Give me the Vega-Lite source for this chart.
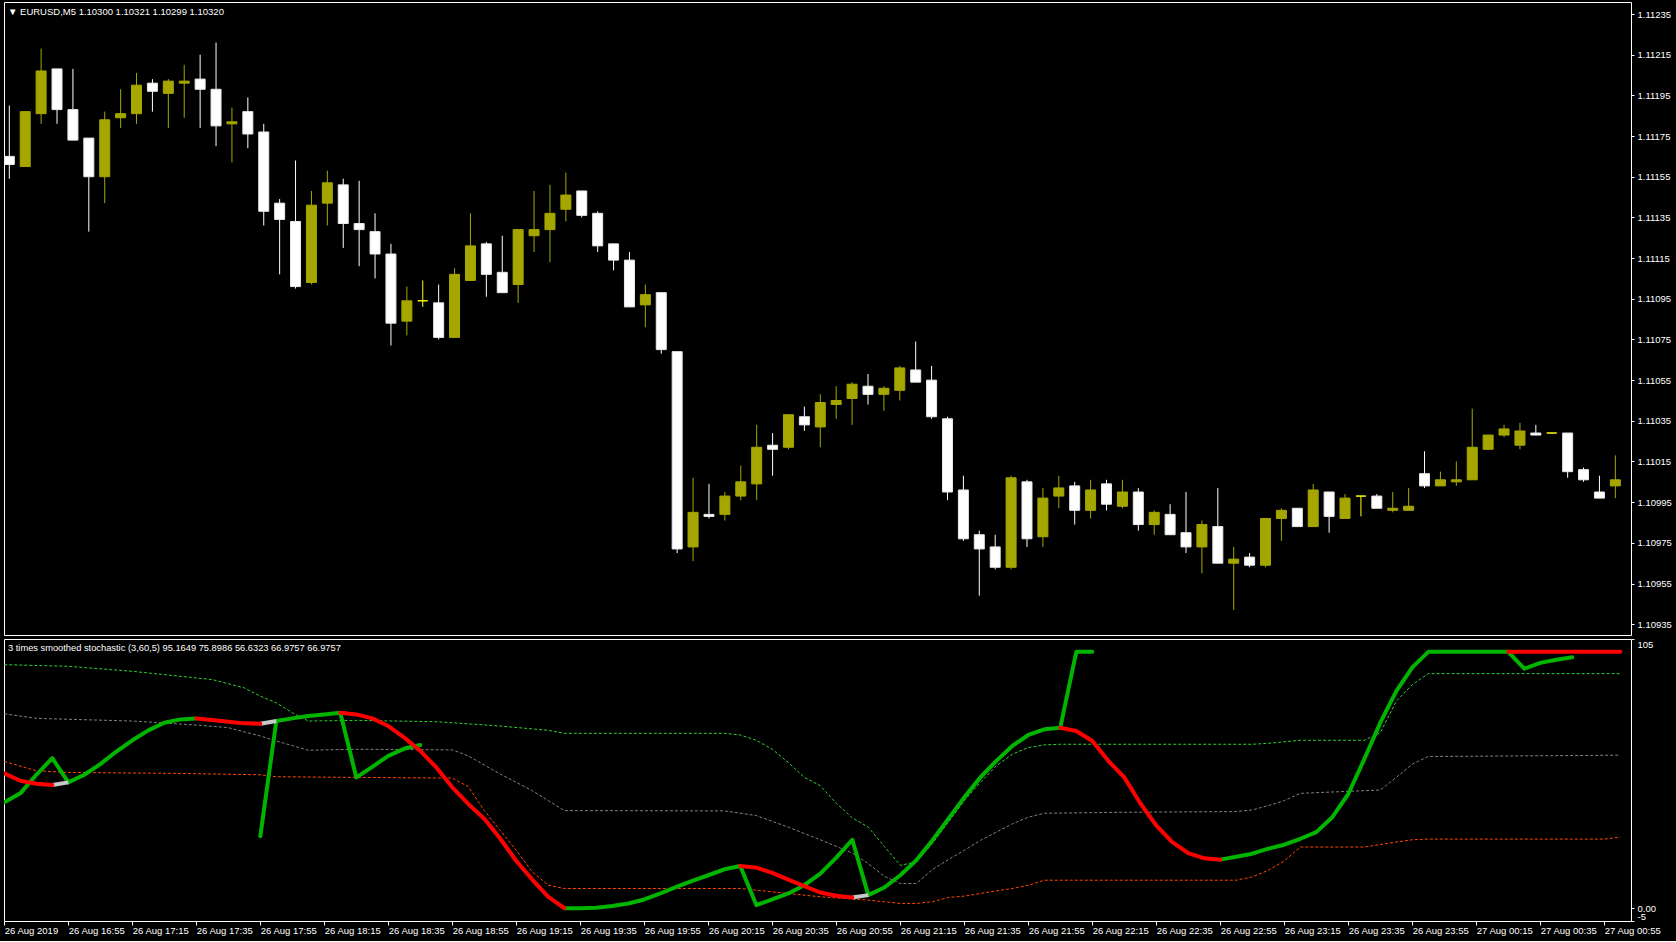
{
"$schema": "https://vega.github.io/schema/vega-lite/v6.json",
"background": "#000000",
"autosize": {"type": "pad"},
"padding": {"left": 3, "top": 1, "right": 5, "bottom": 6},
"spacing": 2,
"config": {
  "view": {"stroke": "#ffffff", "strokeWidth": 1},
  "font": "Liberation Sans",
  "axis": {"labelFont": "Liberation Sans", "labelFontSize": 9.5, "labelColor": "#ffffff", "tickColor": "#ffffff", "grid": false, "domain": false, "title": null}
},
"datasets": {
"c": [
{"t":"2019-08-26T16:35","o":1.11165,"h":1.11190,"l":1.11154,"c":1.11161},
{"t":"2019-08-26T16:40","o":1.11160,"h":1.11187,"l":1.11160,"c":1.11187},
{"t":"2019-08-26T16:45","o":1.11186,"h":1.11218,"l":1.11181,"c":1.11207},
{"t":"2019-08-26T16:50","o":1.11208,"h":1.11208,"l":1.11181,"c":1.11188},
{"t":"2019-08-26T16:55","o":1.11188,"h":1.11208,"l":1.11173,"c":1.11173},
{"t":"2019-08-26T17:00","o":1.11174,"h":1.11174,"l":1.11128,"c":1.11155},
{"t":"2019-08-26T17:05","o":1.11155,"h":1.11187,"l":1.11142,"c":1.11183},
{"t":"2019-08-26T17:10","o":1.11184,"h":1.11198,"l":1.11179,"c":1.11186},
{"t":"2019-08-26T17:15","o":1.11186,"h":1.11206,"l":1.11181,"c":1.11200},
{"t":"2019-08-26T17:20","o":1.11201,"h":1.11203,"l":1.11187,"c":1.11197},
{"t":"2019-08-26T17:25","o":1.11196,"h":1.11203,"l":1.11179,"c":1.11202},
{"t":"2019-08-26T17:30","o":1.11201,"h":1.11210,"l":1.11184,"c":1.11202},
{"t":"2019-08-26T17:35","o":1.11203,"h":1.11215,"l":1.11179,"c":1.11198},
{"t":"2019-08-26T17:40","o":1.11198,"h":1.11221,"l":1.11170,"c":1.11180},
{"t":"2019-08-26T17:45","o":1.11181,"h":1.11189,"l":1.11162,"c":1.11182},
{"t":"2019-08-26T17:50","o":1.11187,"h":1.11194,"l":1.11169,"c":1.11176},
{"t":"2019-08-26T17:55","o":1.11177,"h":1.11181,"l":1.11131,"c":1.11138},
{"t":"2019-08-26T18:00","o":1.11142,"h":1.11144,"l":1.11107,"c":1.11134},
{"t":"2019-08-26T18:05","o":1.11133,"h":1.11163,"l":1.11100,"c":1.11101},
{"t":"2019-08-26T18:10","o":1.11103,"h":1.11148,"l":1.11102,"c":1.11141},
{"t":"2019-08-26T18:15","o":1.11142,"h":1.11158,"l":1.11131,"c":1.11152},
{"t":"2019-08-26T18:20","o":1.11151,"h":1.11154,"l":1.11120,"c":1.11132},
{"t":"2019-08-26T18:25","o":1.11132,"h":1.11153,"l":1.11111,"c":1.11129},
{"t":"2019-08-26T18:30","o":1.11128,"h":1.11137,"l":1.11105,"c":1.11117},
{"t":"2019-08-26T18:35","o":1.11117,"h":1.11122,"l":1.11072,"c":1.11083},
{"t":"2019-08-26T18:40","o":1.11084,"h":1.11101,"l":1.11077,"c":1.11094},
{"t":"2019-08-26T18:45","o":1.11094,"h":1.11104,"l":1.11091,"c":1.11094},
{"t":"2019-08-26T18:50","o":1.11093,"h":1.11102,"l":1.11075,"c":1.11076},
{"t":"2019-08-26T18:55","o":1.11076,"h":1.11110,"l":1.11076,"c":1.11107},
{"t":"2019-08-26T19:00","o":1.11104,"h":1.11137,"l":1.11104,"c":1.11121},
{"t":"2019-08-26T19:05","o":1.11122,"h":1.11123,"l":1.11096,"c":1.11107},
{"t":"2019-08-26T19:10","o":1.11108,"h":1.11126,"l":1.11098,"c":1.11098},
{"t":"2019-08-26T19:15","o":1.11102,"h":1.11129,"l":1.11093,"c":1.11129},
{"t":"2019-08-26T19:20","o":1.11126,"h":1.11148,"l":1.11118,"c":1.11129},
{"t":"2019-08-26T19:25","o":1.11129,"h":1.11151,"l":1.11113,"c":1.11137},
{"t":"2019-08-26T19:30","o":1.11139,"h":1.11157,"l":1.11133,"c":1.11146},
{"t":"2019-08-26T19:35","o":1.11148,"h":1.11148,"l":1.11135,"c":1.11136},
{"t":"2019-08-26T19:40","o":1.11137,"h":1.11138,"l":1.11118,"c":1.11121},
{"t":"2019-08-26T19:45","o":1.11122,"h":1.11122,"l":1.11109,"c":1.11114},
{"t":"2019-08-26T19:50","o":1.11114,"h":1.11118,"l":1.11091,"c":1.11091},
{"t":"2019-08-26T19:55","o":1.11092,"h":1.11102,"l":1.11081,"c":1.11097},
{"t":"2019-08-26T20:00","o":1.11098,"h":1.11098,"l":1.11068,"c":1.11070},
{"t":"2019-08-26T20:05","o":1.11069,"h":1.11069,"l":1.10970,"c":1.10972},
{"t":"2019-08-26T20:10","o":1.10973,"h":1.11007,"l":1.10966,"c":1.10990},
{"t":"2019-08-26T20:15","o":1.10989,"h":1.11004,"l":1.10987,"c":1.10988},
{"t":"2019-08-26T20:20","o":1.10989,"h":1.11000,"l":1.10986,"c":1.10998},
{"t":"2019-08-26T20:25","o":1.10998,"h":1.11013,"l":1.10996,"c":1.11005},
{"t":"2019-08-26T20:30","o":1.11004,"h":1.11033,"l":1.10996,"c":1.11022},
{"t":"2019-08-26T20:35","o":1.11023,"h":1.11029,"l":1.11008,"c":1.11021},
{"t":"2019-08-26T20:40","o":1.11022,"h":1.11038,"l":1.11021,"c":1.11038},
{"t":"2019-08-26T20:45","o":1.11037,"h":1.11042,"l":1.11030,"c":1.11033},
{"t":"2019-08-26T20:50","o":1.11032,"h":1.11048,"l":1.11022,"c":1.11044},
{"t":"2019-08-26T20:55","o":1.11043,"h":1.11052,"l":1.11036,"c":1.11045},
{"t":"2019-08-26T21:00","o":1.11046,"h":1.11054,"l":1.11033,"c":1.11053},
{"t":"2019-08-26T21:05","o":1.11052,"h":1.11058,"l":1.11043,"c":1.11048},
{"t":"2019-08-26T21:10","o":1.11048,"h":1.11052,"l":1.11040,"c":1.11051},
{"t":"2019-08-26T21:15","o":1.11050,"h":1.11062,"l":1.11045,"c":1.11061},
{"t":"2019-08-26T21:20","o":1.11060,"h":1.11074,"l":1.11054,"c":1.11054},
{"t":"2019-08-26T21:25","o":1.11055,"h":1.11062,"l":1.11036,"c":1.11037},
{"t":"2019-08-26T21:30","o":1.11036,"h":1.11037,"l":1.10996,"c":1.11000},
{"t":"2019-08-26T21:35","o":1.11001,"h":1.11008,"l":1.10976,"c":1.10977},
{"t":"2019-08-26T21:40","o":1.10979,"h":1.10981,"l":1.10949,"c":1.10972},
{"t":"2019-08-26T21:45","o":1.10973,"h":1.10979,"l":1.10962,"c":1.10963},
{"t":"2019-08-26T21:50","o":1.10963,"h":1.11008,"l":1.10962,"c":1.11007},
{"t":"2019-08-26T21:55","o":1.11005,"h":1.11006,"l":1.10973,"c":1.10977},
{"t":"2019-08-26T22:00","o":1.10978,"h":1.11002,"l":1.10973,"c":1.10997},
{"t":"2019-08-26T22:05","o":1.10998,"h":1.11008,"l":1.10992,"c":1.11002},
{"t":"2019-08-26T22:10","o":1.11003,"h":1.11005,"l":1.10984,"c":1.10991},
{"t":"2019-08-26T22:15","o":1.10991,"h":1.11006,"l":1.10987,"c":1.11001},
{"t":"2019-08-26T22:20","o":1.11004,"h":1.11006,"l":1.10991,"c":1.10994},
{"t":"2019-08-26T22:25","o":1.10993,"h":1.11006,"l":1.10992,"c":1.11000},
{"t":"2019-08-26T22:30","o":1.11000,"h":1.11002,"l":1.10981,"c":1.10984},
{"t":"2019-08-26T22:35","o":1.10984,"h":1.10991,"l":1.10979,"c":1.10990},
{"t":"2019-08-26T22:40","o":1.10989,"h":1.10994,"l":1.10979,"c":1.10979},
{"t":"2019-08-26T22:45","o":1.10980,"h":1.11000,"l":1.10970,"c":1.10973},
{"t":"2019-08-26T22:50","o":1.10973,"h":1.10986,"l":1.10960,"c":1.10984},
{"t":"2019-08-26T22:55","o":1.10983,"h":1.11002,"l":1.10965,"c":1.10965},
{"t":"2019-08-26T23:00","o":1.10965,"h":1.10973,"l":1.10942,"c":1.10967},
{"t":"2019-08-26T23:05","o":1.10968,"h":1.10970,"l":1.10963,"c":1.10964},
{"t":"2019-08-26T23:10","o":1.10964,"h":1.10987,"l":1.10963,"c":1.10987},
{"t":"2019-08-26T23:15","o":1.10987,"h":1.10992,"l":1.10976,"c":1.10991},
{"t":"2019-08-26T23:20","o":1.10992,"h":1.10992,"l":1.10983,"c":1.10983},
{"t":"2019-08-26T23:25","o":1.10983,"h":1.11004,"l":1.10983,"c":1.11001},
{"t":"2019-08-26T23:30","o":1.11000,"h":1.11000,"l":1.10980,"c":1.10988},
{"t":"2019-08-26T23:35","o":1.10987,"h":1.10999,"l":1.10987,"c":1.10997},
{"t":"2019-08-26T23:40","o":1.10998,"h":1.10998,"l":1.10988,"c":1.10998},
{"t":"2019-08-26T23:45","o":1.10998,"h":1.10999,"l":1.10992,"c":1.10992},
{"t":"2019-08-26T23:50","o":1.10991,"h":1.11000,"l":1.10990,"c":1.10992},
{"t":"2019-08-26T23:55","o":1.10991,"h":1.11002,"l":1.10991,"c":1.10993},
{"t":"2019-08-27T00:00","o":1.11009,"h":1.11020,"l":1.11002,"c":1.11003},
{"t":"2019-08-27T00:05","o":1.11003,"h":1.11010,"l":1.11003,"c":1.11006},
{"t":"2019-08-27T00:10","o":1.11005,"h":1.11015,"l":1.11003,"c":1.11006},
{"t":"2019-08-27T00:15","o":1.11006,"h":1.11041,"l":1.11006,"c":1.11022},
{"t":"2019-08-27T00:20","o":1.11021,"h":1.11028,"l":1.11021,"c":1.11028},
{"t":"2019-08-27T00:25","o":1.11028,"h":1.11033,"l":1.11027,"c":1.11031},
{"t":"2019-08-27T00:30","o":1.11023,"h":1.11034,"l":1.11021,"c":1.11030},
{"t":"2019-08-27T00:35","o":1.11029,"h":1.11033,"l":1.11028,"c":1.11028},
{"t":"2019-08-27T00:40","o":1.11029,"h":1.11029,"l":1.11029,"c":1.11029},
{"t":"2019-08-27T00:45","o":1.11029,"h":1.11029,"l":1.11007,"c":1.11010},
{"t":"2019-08-27T00:50","o":1.11011,"h":1.11012,"l":1.11005,"c":1.11006},
{"t":"2019-08-27T00:55","o":1.11000,"h":1.11008,"l":1.10997,"c":1.10997},
{"t":"2019-08-27T01:00","o":1.11003,"h":1.11018,"l":1.10997,"c":1.11006}
],
"s": [
{"t":"2019-08-26T16:35","g":41.3,"r":52.56,"hi":94.99,"md":75.84,"lo":57.22},
{"t":"2019-08-26T16:40","g":44.8,"r":49.71},
{"t":"2019-08-26T16:45","g":52.04,"r":48.55,"md":74.03,"lo":53.59},
{"t":"2019-08-26T16:50","g":58.51,"r":48.03,"y":48.03},
{"t":"2019-08-26T16:55","g":49.07,"y":49.07,"hi":94.34,"lo":52.95},
{"t":"2019-08-26T17:00","g":52.04},
{"t":"2019-08-26T17:05","g":56.18},
{"t":"2019-08-26T17:10","g":61.1},
{"t":"2019-08-26T17:15","g":65.49,"hi":92.4,"md":73.0},
{"t":"2019-08-26T17:20","g":69.37},
{"t":"2019-08-26T17:25","g":72.35},
{"t":"2019-08-26T17:30","g":73.64,"lo":52.56},
{"t":"2019-08-26T17:35","g":74.03,"r":74.03,"hi":89.81,"md":71.44},
{"t":"2019-08-26T17:40","r":73.38,"hi":89.16},
{"t":"2019-08-26T17:45","r":72.74,"md":70.41},
{"t":"2019-08-26T17:50","r":72.09,"hi":85.93},
{"t":"2019-08-26T17:55","g":28.11,"r":71.96,"y":71.96,"hi":82.7,"md":67.17,"lo":52.04},
{"t":"2019-08-26T18:00","g":73.0,"y":73.0,"hi":80.11,"md":65.23,"lo":51.27},
{"t":"2019-08-26T18:05","g":74.03,"hi":76.23},
{"t":"2019-08-26T18:10","g":74.94,"hi":73.0,"md":61.61},
{"t":"2019-08-26T18:15","g":75.58},
{"t":"2019-08-26T18:20","g":76.23,"r":76.23},
{"t":"2019-08-26T18:25","g":51.01,"r":75.58,"hi":73.25,"md":62.0,"lo":51.01},
{"t":"2019-08-26T18:30","g":55.15,"r":74.03},
{"t":"2019-08-26T18:35","g":59.41,"r":71.05},
{"t":"2019-08-26T18:40","g":62.26,"r":66.53},
{"t":"2019-08-26T18:45","g":63.68,"r":61.35},
{"t":"2019-08-26T18:50","r":54.89,"hi":72.74},
{"t":"2019-08-26T18:55","r":47.13,"md":61.74,"lo":50.75},
{"t":"2019-08-26T19:00","r":40.66,"md":59.41,"lo":47.38},
{"t":"2019-08-26T19:05","r":34.84,"lo":38.07},
{"t":"2019-08-26T19:10","r":27.08,"hi":71.05,"md":52.3,"lo":30.31},
{"t":"2019-08-26T19:15","r":18.41,"lo":22.55},
{"t":"2019-08-26T19:20","r":11.17,"md":45.83,"lo":14.14},
{"t":"2019-08-26T19:25","r":4.44,"hi":69.37,"lo":8.97},
{"t":"2019-08-26T19:30","g":0,"r":0,"hi":68.21,"md":38.07,"lo":7.67},
{"t":"2019-08-26T19:35","g":0},
{"t":"2019-08-26T19:40","g":0.17},
{"t":"2019-08-26T19:45","g":0.82},
{"t":"2019-08-26T19:50","g":1.85},
{"t":"2019-08-26T19:55","g":3.41},
{"t":"2019-08-26T20:00","g":5.73},
{"t":"2019-08-26T20:05","g":8.32},
{"t":"2019-08-26T20:10","g":10.65},
{"t":"2019-08-26T20:15","g":12.85},
{"t":"2019-08-26T20:20","g":15.17,"hi":68.21,"md":37.94},
{"t":"2019-08-26T20:25","g":16.47,"r":16.47,"hi":67.56,"lo":7.67},
{"t":"2019-08-26T20:30","g":1.21,"r":15.82,"hi":65.49,"md":36.13,"lo":7.03},
{"t":"2019-08-26T20:35","g":3.41,"r":13.75,"hi":62.0},
{"t":"2019-08-26T20:40","g":5.73,"r":11.17,"hi":56.83,"md":31.6,"lo":5.73},
{"t":"2019-08-26T20:45","g":8.97,"r":8.58,"hi":51.01},
{"t":"2019-08-26T20:50","g":13.49,"r":6.12,"hi":47.77,"md":26.69,"lo":4.44},
{"t":"2019-08-26T20:55","g":19.7,"r":4.83,"hi":40.92},
{"t":"2019-08-26T21:00","g":26.69,"r":4.18,"y":4.18,"hi":35.22,"md":21.51},
{"t":"2019-08-26T21:05","g":5.09,"y":5.09,"hi":31.6,"md":17.37,"lo":3.15},
{"t":"2019-08-26T21:10","g":8.06,"hi":24.1,"md":12.46,"lo":2.5},
{"t":"2019-08-26T21:15","g":12.85,"hi":16.73,"md":9.61,"lo":1.85},
{"t":"2019-08-26T21:20","g":18.67,"hi":18.02,"md":9.61,"lo":1.85},
{"t":"2019-08-26T21:25","g":26.43,"hi":25.14,"md":15.05,"lo":2.5},
{"t":"2019-08-26T21:30","g":34.84,"hi":33.54,"md":18.93,"lo":4.18},
{"t":"2019-08-26T21:35","g":43.24,"hi":41.95,"md":22.55,"lo":4.7},
{"t":"2019-08-26T21:40","g":51.01,"hi":49.07,"md":26.43,"lo":5.73},
{"t":"2019-08-26T21:45","g":57.47,"hi":55.53,"md":29.66,"lo":6.77},
{"t":"2019-08-26T21:50","g":63.29,"hi":60.06,"md":32.9,"lo":7.67},
{"t":"2019-08-26T21:55","g":67.56,"hi":62.65,"md":35.48,"lo":8.97},
{"t":"2019-08-26T22:00","g":69.76,"hi":63.68,"md":37.03,"lo":10.91},
{"t":"2019-08-26T22:05","g":70.41,"r":70.41,"hi":63.94},
{"t":"2019-08-26T22:10","g":100,"r":69.12},
{"t":"2019-08-26T22:15","g":100,"r":65.23},
{"t":"2019-08-26T22:20","r":57.47},
{"t":"2019-08-26T22:25","r":51.01,"md":37.42,"lo":10.91},
{"t":"2019-08-26T22:30","r":40.92},
{"t":"2019-08-26T22:35","r":32.25},
{"t":"2019-08-26T22:40","r":25.79},
{"t":"2019-08-26T22:45","r":21.51},
{"t":"2019-08-26T22:50","r":19.44},
{"t":"2019-08-26T22:55","g":18.93,"r":18.93},
{"t":"2019-08-26T23:00","g":20.09,"md":37.68,"lo":10.91},
{"t":"2019-08-26T23:05","g":21.26,"hi":63.94,"md":38.33,"lo":12.2},
{"t":"2019-08-26T23:10","g":23.2,"hi":64.3,"md":40.01,"lo":14.79},
{"t":"2019-08-26T23:15","g":24.75,"md":41.95,"lo":18.41},
{"t":"2019-08-26T23:20","g":27.08,"hi":65.49,"md":44.8,"lo":23.85},
{"t":"2019-08-26T23:25","g":29.66},
{"t":"2019-08-26T23:30","g":35.48},
{"t":"2019-08-26T23:35","g":44.54},
{"t":"2019-08-26T23:40","g":58.12,"hi":65.49,"md":45.83,"lo":23.85},
{"t":"2019-08-26T23:45","g":72.35,"hi":68.47,"md":46.09},
{"t":"2019-08-26T23:50","g":84.64,"hi":80.76,"md":51.01,"lo":25.79},
{"t":"2019-08-26T23:55","g":93.95,"hi":87.22,"md":56.18,"lo":26.69},
{"t":"2019-08-27T00:00","g":100,"hi":91.49,"md":59.16,"lo":26.95},
{"t":"2019-08-27T00:05","g":100},
{"t":"2019-08-27T00:10","g":100},
{"t":"2019-08-27T00:15","g":100},
{"t":"2019-08-27T00:20","g":100},
{"t":"2019-08-27T00:25","g":100,"r":100},
{"t":"2019-08-27T00:30","g":93.4,"r":100},
{"t":"2019-08-27T00:35","g":95.7,"r":100},
{"t":"2019-08-27T00:40","g":96.9,"r":100},
{"t":"2019-08-27T00:45","g":97.9,"r":100},
{"t":"2019-08-27T00:50","r":100},
{"t":"2019-08-27T00:55","r":100,"lo":26.95},
{"t":"2019-08-27T01:00","r":100,"hi":91.49,"md":59.67,"lo":27.72}
]
},
"vconcat": [
{
  "width": 1627,
  "height": 633,
  "data": {"name": "c"},
  "title": {"text": "▼ EURUSD,M5  1.10300 1.10321 1.10299 1.10320", "anchor": "start", "frame": "group", "orient": "top", "offset": -24, "dx": 4, "baseline": "bottom", "fontSize": 9.5, "fontWeight": "normal", "color": "#ffffff", "font": "Liberation Sans"},
  "encoding": {
    "x": {"field": "t", "type": "temporal", "axis": null,
      "scale": {"domain": [{"year":2019,"month":8,"date":26,"hours":16,"minutes":34,"seconds":54},{"year":2019,"month":8,"date":27,"hours":1,"minutes":3,"seconds":21}]}}
  },
  "layer": [
    {
      "mark": {"type": "rule", "strokeWidth": 1, "clip": true},
      "encoding": {
        "y": {"field": "l", "type": "quantitative",
          "scale": {"domain": [1.109297, 1.112409], "nice": false, "zero": false},
          "axis": {"orient": "right", "values": [1.10935,1.10955,1.10975,1.10995,1.11015,1.11035,1.11055,1.11075,1.11095,1.11115,1.11135,1.11155,1.11175,1.11195,1.11215,1.11235], "format": ".5f", "tickSize": 3, "labelPadding": 3, "labelOverlap": false, "title": null}},
        "y2": {"field": "h"},
        "color": {"condition": [{"test": "datum.c > datum.o", "value": "#a6a600"}, {"test": "datum.c < datum.o", "value": "#ffffff"}], "value": "#ffff00"}
      }
    },
    {
      "mark": {"type": "bar", "size": 10, "strokeWidth": 1, "clip": true},
      "encoding": {
        "y": {"field": "o", "type": "quantitative"},
        "y2": {"field": "c"},
        "color": {"condition": [{"test": "datum.c > datum.o", "value": "#a6a600"}, {"test": "datum.c < datum.o", "value": "#ffffff"}], "value": "#ffff00"},
        "stroke": {"condition": [{"test": "datum.c > datum.o", "value": "#a6a600"}, {"test": "datum.c < datum.o", "value": "#e8e8e8"}], "value": "#ffff00"}
      }
    }
  ]
},
{
  "width": 1627,
  "height": 282,
  "data": {"name": "s"},
  "title": {"text": "3 times smoothed stochastic (3,60,5) 95.1649 75.8986 56.6323 66.9757 66.9757", "anchor": "start", "frame": "group", "orient": "top", "offset": -24, "dx": 4, "baseline": "bottom", "fontSize": 9.3, "fontWeight": "normal", "color": "#ffffff", "font": "Liberation Sans"},
  "encoding": {
    "x": {"field": "t", "type": "temporal",
      "scale": {"domain": [{"year":2019,"month":8,"date":26,"hours":16,"minutes":34,"seconds":54},{"year":2019,"month":8,"date":27,"hours":1,"minutes":3,"seconds":21}]},
      "axis": {"values": [
        {"year":2019,"month":8,"date":26,"hours":16,"minutes":35},
        {"year":2019,"month":8,"date":26,"hours":16,"minutes":55},
        {"year":2019,"month":8,"date":26,"hours":17,"minutes":15},
        {"year":2019,"month":8,"date":26,"hours":17,"minutes":35},
        {"year":2019,"month":8,"date":26,"hours":17,"minutes":55},
        {"year":2019,"month":8,"date":26,"hours":18,"minutes":15},
        {"year":2019,"month":8,"date":26,"hours":18,"minutes":35},
        {"year":2019,"month":8,"date":26,"hours":18,"minutes":55},
        {"year":2019,"month":8,"date":26,"hours":19,"minutes":15},
        {"year":2019,"month":8,"date":26,"hours":19,"minutes":35},
        {"year":2019,"month":8,"date":26,"hours":19,"minutes":55},
        {"year":2019,"month":8,"date":26,"hours":20,"minutes":15},
        {"year":2019,"month":8,"date":26,"hours":20,"minutes":35},
        {"year":2019,"month":8,"date":26,"hours":20,"minutes":55},
        {"year":2019,"month":8,"date":26,"hours":21,"minutes":15},
        {"year":2019,"month":8,"date":26,"hours":21,"minutes":35},
        {"year":2019,"month":8,"date":26,"hours":21,"minutes":55},
        {"year":2019,"month":8,"date":26,"hours":22,"minutes":15},
        {"year":2019,"month":8,"date":26,"hours":22,"minutes":35},
        {"year":2019,"month":8,"date":26,"hours":22,"minutes":55},
        {"year":2019,"month":8,"date":26,"hours":23,"minutes":15},
        {"year":2019,"month":8,"date":26,"hours":23,"minutes":35},
        {"year":2019,"month":8,"date":26,"hours":23,"minutes":55},
        {"year":2019,"month":8,"date":27,"hours":0,"minutes":15},
        {"year":2019,"month":8,"date":27,"hours":0,"minutes":35},
        {"year":2019,"month":8,"date":27,"hours":0,"minutes":55}],
        "labelExpr": "timeFormat(datum.value, '%H:%M') == '16:35' ? '26 Aug 2019' : timeFormat(datum.value, '%d %b %H:%M')",
        "labelAlign": "left", "labelBaseline": "top", "labelFlush": false, "labelOverlap": false, "labelPadding": 0, "tickSize": 4, "title": null}
    }
  },
  "layer": [
    {
      "transform": [{"fold": ["hi", "md", "lo"], "as": ["band", "val"]}],
      "mark": {"type": "line", "strokeWidth": 1, "strokeDash": [3, 2], "invalid": "filter", "clip": true},
      "encoding": {
        "y": {"field": "val", "type": "quantitative", "scale": {"domain": [-5, 105], "nice": false, "zero": false},
          "axis": {"orient": "right", "values": [-5, 0, 105], "labelExpr": "datum.value == 0 ? '0.00' : (datum.value < 0 ? '-5' : '105')", "labelFlush": true, "labelOverlap": false, "tickSize": 3, "labelPadding": 3, "title": null}},
        "color": {"field": "band", "type": "nominal", "legend": null, "scale": {"domain": ["hi", "md", "lo"], "range": ["#32cd32", "#808080", "#ff4500"]}}
      }
    },
    {
      "mark": {"type": "line", "strokeWidth": 4, "color": "#00b400", "strokeCap": "round", "strokeJoin": "round", "clip": true},
      "encoding": {"y": {"field": "g", "type": "quantitative", "title": null}}
    },
    {
      "mark": {"type": "line", "strokeWidth": 4, "color": "#c8c8c8", "strokeJoin": "round", "clip": true},
      "encoding": {"y": {"field": "y", "type": "quantitative", "title": null}}
    },
    {
      "mark": {"type": "line", "strokeWidth": 4, "color": "#ff0000", "strokeCap": "round", "strokeJoin": "round", "clip": true},
      "encoding": {"y": {"field": "r", "type": "quantitative", "title": null}}
    }
  ]
}
],
"resolve": {"scale": {"x": "independent"}}
}
